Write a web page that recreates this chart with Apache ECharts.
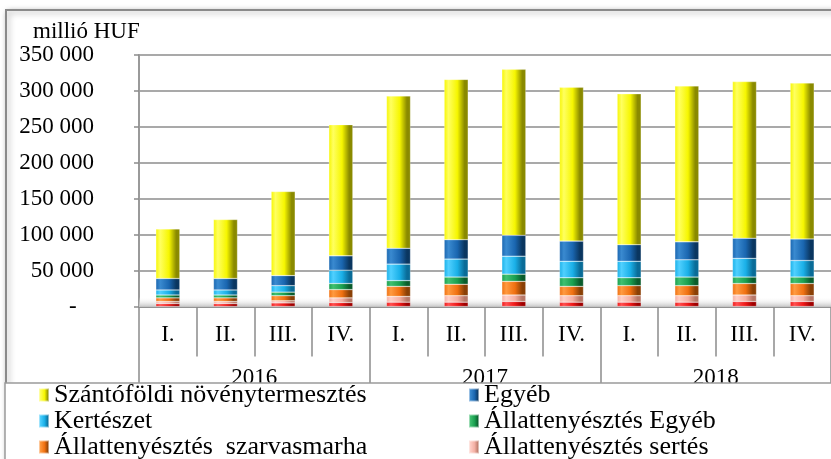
<!DOCTYPE html>
<html>
<head>
<meta charset="utf-8">
<script src="https://cdn.jsdelivr.net/npm/echarts@6/dist/echarts.min.js"></script>
<style>
  html, body { margin: 0; padding: 0; background: #fff; }
  #chart { width: 831px; height: 459px; }
</style>
</head>
<body>
<div id="chart"></div>
<script>
// negyedévek és évek
const quarters = ["I.", "II.", "III.", "IV.", "I.", "II.", "III.", "IV.", "I.", "II.", "III.", "IV."];
const years = ["2016", "2017", "2018"];

// millió HUF, alulról felfelé
const baromfi = [4000, 4000, 5000, 5500, 6000, 6000, 7000, 6000, 6000, 6000, 7000, 7000];
const sertes = [3000, 3000, 3000, 6500, 8000, 9000, 9000, 9000, 9000, 9000, 9000, 8000];
const szarvasmarha = [5000, 5000, 7000, 11500, 14000, 16000, 19000, 13000, 14000, 14000, 16000, 17000];
const allatEgyeb = [4000, 4000, 5000, 8500, 8000, 10000, 10000, 12000, 11000, 12000, 9000, 9000];
const kerteszet = [7000, 7000, 9000, 18500, 23000, 25000, 25000, 23000, 23000, 24000, 26000, 23000];
const egyeb = [16000, 16000, 14000, 20000, 22000, 27000, 29000, 28000, 23000, 25000, 28000, 30000];
const szanto = [69000, 82000, 117000, 182500, 212000, 223000, 231000, 214000, 210000, 217000, 218000, 217000];

const yTicks = [0, 50000, 100000, 150000, 200000, 250000, 300000, 350000];

const FONT = "Liberation Serif";

function grad(light, mid, dark) {
  return new echarts.graphic.LinearGradient(0, 0, 1, 0, [
    { offset: 0, color: mid },
    { offset: 0.18, color: light },
    { offset: 0.55, color: mid },
    { offset: 0.85, color: dark },
    { offset: 1, color: dark },
  ]);
}

const colors = {
  szanto: grad("#ffff60", "#f6f600", "#8a8a00"),
  egyeb: grad("#3a8ad0", "#1a66b0", "#0a3660"),
  kerteszet: grad("#50d0ff", "#1ab0e8", "#0a6c98"),
  allatEgyeb: grad("#40c070", "#1aa050", "#0a5c2c"),
  szarvasmarha: grad("#ff9a40", "#f07010", "#8a4006"),
  sertes: grad("#ffd0c8", "#f4b0a4", "#b87868"),
  baromfi: grad("#ff5050", "#ee1818", "#a00000"),
};

function bar(name, data, color) {
  return {
    name: name,
    type: "bar",
    stack: "total",
    barWidth: 24,
    data: data,
    itemStyle: {
      color: color,
      borderColor: "rgba(255,255,255,0.5)",
      borderWidth: 0.5,
    },
  };
}

const legendText = { fontFamily: FONT, fontSize: 26, color: "#000", lineHeight: 26 };

const chart = echarts.init(document.getElementById("chart"));

chart.setOption({
  animation: false,
  title: {
    text: "millió HUF",
    left: 33,
    top: 20,
    padding: 0,
    textStyle: { fontFamily: FONT, fontSize: 23, fontWeight: "normal", color: "#000" },
  },
  grid: {
    left: 139,
    right: -7,
    top: 55,
    bottom: 152.5,
  },
  legend: [
    {
      orient: "vertical",
      left: 38,
      top: 382,
      height: 120,
      padding: 0,
      itemGap: 0,
      itemWidth: 10,
      itemHeight: 13,
      icon: "rect",
      z: 20,
      textStyle: legendText,
      data: ["Szántóföldi növénytermesztés", "Kertészet", "Állattenyésztés  szarvasmarha"],
    },
    {
      orient: "vertical",
      left: 468,
      top: 382,
      height: 120,
      padding: 0,
      itemGap: 0,
      itemWidth: 10,
      itemHeight: 13,
      icon: "rect",
      z: 20,
      textStyle: legendText,
      data: ["Egyéb", "Állattenyésztés Egyéb", "Állattenyésztés sertés"],
    },
  ],
  xAxis: [
    {
      type: "category",
      data: quarters,
      axisLine: { show: true, lineStyle: { color: "#8c8c8c", width: 1.5 } },
      axisTick: { show: true, length: 50, interval: 0, lineStyle: { color: "#8c8c8c", width: 1.5 } },
      axisLabel: { margin: 17, interval: 0, fontFamily: FONT, fontSize: 23, color: "#000" },
    },
    {
      type: "category",
      data: years,
      position: "bottom",
      axisLine: { show: false },
      axisTick: { show: true, length: 82, interval: 0, lineStyle: { color: "#8c8c8c", width: 1.5 } },
      axisLabel: { margin: 60, interval: 0, fontFamily: FONT, fontSize: 23, color: "#000" },
    },
  ],
  yAxis: {
    type: "value",
    min: yTicks[0],
    max: yTicks[yTicks.length - 1],
    interval: 50000,
    axisLine: { show: true, lineStyle: { color: "#9a9a9a", width: 2 } },
    axisTick: { show: true, length: 5, lineStyle: { color: "#8c8c8c", width: 1.5 } },
    splitLine: { show: true, lineStyle: { color: "#8c8c8c", width: 1.5 } },
    axisLabel: {
      margin: 45,
      fontFamily: FONT,
      fontSize: 23,
      color: "#000",
      formatter: function (v) {
        if (v === 0) return "-   ";
        return String(v).replace(/\B(?=(\d{3})+(?!\d))/g, " ");
      },
    },
  },
  graphic: [
    // külső keret
    {
      type: "rect",
      z: -1,
      shape: { x: 6, y: 10, width: 860, height: 480 },
      style: {
        fill: "#fff",
        stroke: "#8a8a8a",
        lineWidth: 2,
        shadowBlur: 6,
        shadowColor: "rgba(0,0,0,0.35)",
        shadowOffsetX: 2,
        shadowOffsetY: 2,
      },
    },
    // padló
    {
      type: "rect",
      z: 1,
      shape: { x: 139, y: 297, width: 700, height: 10 },
      style: {
        fill: new echarts.graphic.LinearGradient(0, 0, 0, 1, [
          { offset: 0, color: "rgba(255,255,255,0)" },
          { offset: 1, color: "#c4c4c4" },
        ]),
      },
    },
    // jelmagyarázat doboz
    {
      type: "rect",
      z: 10,
      shape: { x: 5, y: 383, width: 860, height: 100 },
      style: { fill: "#fff", stroke: "#9a9a9a", lineWidth: 1.5 },
    },
  ],
  series: [
    bar("Állattenyésztés baromfi", baromfi, colors.baromfi),
    bar("Állattenyésztés sertés", sertes, colors.sertes),
    bar("Állattenyésztés  szarvasmarha", szarvasmarha, colors.szarvasmarha),
    bar("Állattenyésztés Egyéb", allatEgyeb, colors.allatEgyeb),
    bar("Kertészet", kerteszet, colors.kerteszet),
    bar("Egyéb", egyeb, colors.egyeb),
    bar("Szántóföldi növénytermesztés", szanto, colors.szanto),
  ],
});
</script>
</body>
</html>
